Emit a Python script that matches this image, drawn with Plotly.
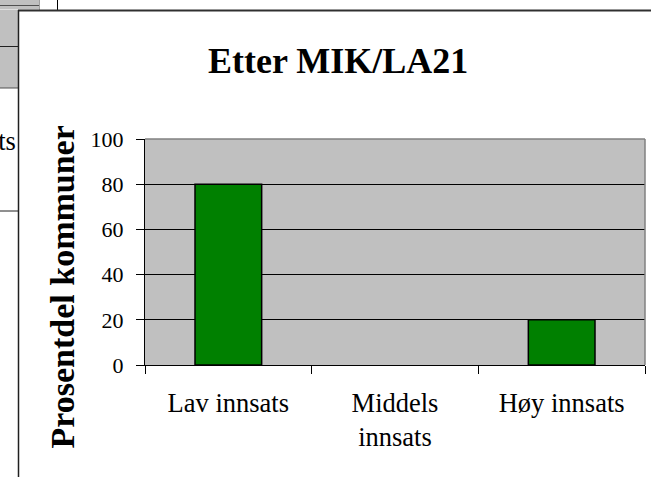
import plotly.graph_objects as go

categories = ["Lav innsats", "Middels<br>innsats", "Høy innsats"]
values = [80, 0, 20]
y_ticks = [0, 20, 40, 60, 80, 100]
title_text = "Etter MIK/LA21"
y_title = "Prosentdel kommuner"
behind_text = "Høy innsats"

W, H = 651, 477
L, R, T, B = 145, 6, 139, 112
PW, PH = W - L - R, H - T - B

def px(x):
    return (x - L) / PW

def py(y):
    return (H - B - y) / PH

FONT = "Liberation Serif"

fig = go.Figure(go.Bar(
    x=categories, y=values,
    marker=dict(color="#008000", line=dict(color="black", width=[1.5 if v > 0 else 0 for v in values])),
    width=0.4,
))

shapes = []
# background artifacts (another chart window behind)
shapes.append(dict(type="rect", xref="paper", yref="paper", x0=px(-2), x1=px(40), y0=py(-2), y1=py(9.5),
                   fillcolor="#C0C0C0", line=dict(width=0), layer="below"))
shapes.append(dict(type="line", xref="paper", yref="paper", x0=px(39.5), x1=px(39.5), y0=py(-2), y1=py(10),
                   line=dict(color="#A0A0A0", width=1)))
shapes.append(dict(type="line", xref="paper", yref="paper", x0=px(-2), x1=px(39), y0=py(5.5), y1=py(5.5),
                   line=dict(color="#505050", width=1)))
shapes.append(dict(type="rect", xref="paper", yref="paper", x0=px(-2), x1=px(18), y0=py(10), y1=py(88),
                   fillcolor="#C0C0C0", line=dict(width=0), layer="below"))
shapes.append(dict(type="line", xref="paper", yref="paper", x0=px(-2), x1=px(18), y0=py(46.5), y1=py(46.5),
                   line=dict(color="#202020", width=1)))
shapes.append(dict(type="line", xref="paper", yref="paper", x0=px(-2), x1=px(18), y0=py(88), y1=py(88),
                   line=dict(color="#505050", width=1)))
shapes.append(dict(type="line", xref="paper", yref="paper", x0=px(-2), x1=px(18), y0=py(211), y1=py(211),
                   line=dict(color="#202020", width=1)))
shapes.append(dict(type="line", xref="paper", yref="paper", x0=px(57.5), x1=px(57.5), y0=py(-2), y1=py(10),
                   line=dict(color="black", width=1)))
# chart window frame
shapes.append(dict(type="line", xref="paper", yref="paper", x0=px(18), x1=px(660), y0=py(10.5), y1=py(10.5),
                   line=dict(color="#303030", width=2)))
shapes.append(dict(type="line", xref="paper", yref="paper", x0=px(18.5), x1=px(18.5), y0=py(10), y1=py(490),
                   line=dict(color="#202020", width=1.5)))
# plot area top/right border
shapes.append(dict(type="line", xref="paper", yref="paper", x0=0, x1=1, y0=1, y1=1,
                   line=dict(color="#808080", width=1.5)))
shapes.append(dict(type="line", xref="paper", yref="paper", x0=1, x1=1, y0=0, y1=1,
                   line=dict(color="#808080", width=1.5)))

annotations = [
    dict(text="<b>" + title_text + "</b>", xref="paper", yref="paper", x=px(338), y=py(61),
         xanchor="center", yanchor="middle", showarrow=False,
         font=dict(family=FONT, size=36, color="black")),
    dict(text="<b>" + y_title + "</b>", xref="paper", yref="paper", x=px(62), y=py(287.5),
         xanchor="center", yanchor="middle", textangle=-90, showarrow=False,
         font=dict(family=FONT, size=34, color="black")),
    dict(text=behind_text, xref="paper", yref="paper", x=px(18), y=py(141),
         xanchor="right", yanchor="middle", showarrow=False,
         font=dict(family=FONT, size=26.5, color="black")),
]

fig.update_layout(
    width=W, height=H,
    margin=dict(l=L, r=R, t=T, b=B, pad=0),
    paper_bgcolor="white", plot_bgcolor="#C0C0C0",
    showlegend=False,
    bargap=0.6,
    shapes=shapes,
    annotations=annotations,
    font=dict(family=FONT),
    xaxis=dict(
        type="category", tickson="boundaries", ticks="outside", ticklen=8, tickwidth=1,
        tickcolor="black", showline=True, linecolor="black", linewidth=1,
        showgrid=False, zeroline=False,
        tickfont=dict(family=FONT, size=26.5, color="black"),
        ticklabelstandoff=14,
    ),
    yaxis=dict(
        range=[0, 100], tickvals=y_ticks, ticks="outside", ticklen=8, tickwidth=1,
        tickcolor="black", showline=True, linecolor="black", linewidth=1,
        showgrid=True, gridcolor="black", gridwidth=1, zeroline=False,
        tickfont=dict(family=FONT, size=22, color="black"),
        ticklabelstandoff=8,
    ),
)

fig.write_html("out.html", config={"displayModeBar": False},
               post_script="document.body.style.margin='0';document.body.style.padding='0';")
